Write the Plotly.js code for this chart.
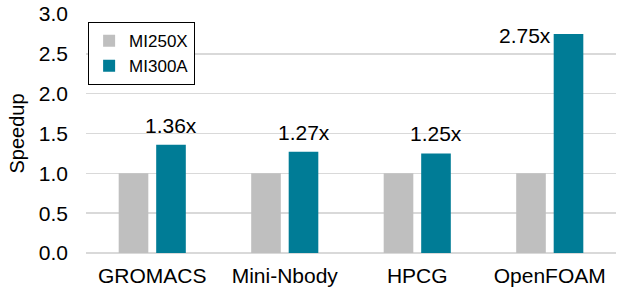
<!DOCTYPE html>
<html><head><meta charset="utf-8">
<script src="https://cdn.plot.ly/plotly-3.0.1.min.js"></script>
<style>html,body{margin:0;padding:0;background:#fff}</style>
</head><body><div id="chart" style="width:621px;height:293px"></div>
<script>
const categories = ["GROMACS", "Mini-Nbody", "HPCG", "OpenFOAM"];
const mi250x = [1.0, 1.0, 1.0, 1.0];
const mi300a = [1.36, 1.27, 1.25, 2.75];
const labels = ["1.36x", "1.27x", "1.25x", "2.75x"];
const yTicks = [0, 0.5, 1.0, 1.5, 2.0, 2.5, 3.0];
const yTickText = ["0.0", "0.5", "1.0", "1.5", "2.0", "2.5", "3.0"];

const font = "Liberation Sans, Arial, sans-serif";
const traces = [
  {type: "bar", name: "MI250X", x: categories, y: mi250x, marker: {color: "#BFBFBF"}},
  {type: "bar", name: "MI300A", x: categories, y: mi300a, marker: {color: "#007C96"}}
];
const annotations = categories.map((c, i) => {
  const last = i === categories.length - 1;
  return last ? {
    x: c, y: mi300a[i], xref: "x", yref: "y", text: labels[i], showarrow: false,
    xanchor: "right", yanchor: "middle", xshift: 3, yshift: -2,
    font: {family: font, size: 21, color: "#000"}
  } : {
    x: c, y: mi300a[i], xref: "x", yref: "y", text: labels[i], showarrow: false,
    xanchor: "center", yanchor: "bottom", xshift: 19, yshift: 6,
    font: {family: font, size: 21, color: "#000"}
  };
});
const layout = {
  width: 621, height: 293,
  margin: {l: 86, r: 5, t: 14, b: 40, pad: 0},
  paper_bgcolor: "#fff", plot_bgcolor: "#fff",
  barmode: "group", bargap: 0.434, bargroupgap: 0.21,
  font: {family: font, size: 21, color: "#000"},
  xaxis: {tickfont: {family: font, size: 21, color: "#000"}, showgrid: false, showline: false, ticks: "", ticklabelstandoff: 8},
  yaxis: {range: [0, 3.0], tickvals: yTicks, ticktext: yTickText, showgrid: true, gridcolor: "#D9D9D9", gridwidth: 1.5,
    zeroline: true, zerolinecolor: "#D9D9D9", zerolinewidth: 1.5, showline: false,
    tickfont: {family: font, size: 21, color: "#000"}, ticklabelstandoff: 17,
    title: {text: "Speedup", font: {family: font, size: 20, color: "#000"}, standoff: 8}},
  legend: {x: 0.004, y: 0.966, xanchor: "left", yanchor: "top", bordercolor: "#000", borderwidth: 1,
    bgcolor: "#fff", font: {family: font, size: 17, color: "#000"}, itemwidth: 30, tracegroupgap: 0},
  showlegend: true,
  annotations: annotations
};
Plotly.newPlot("chart", traces, layout, {displayModeBar: false, staticPlot: true});
</script></body></html>
